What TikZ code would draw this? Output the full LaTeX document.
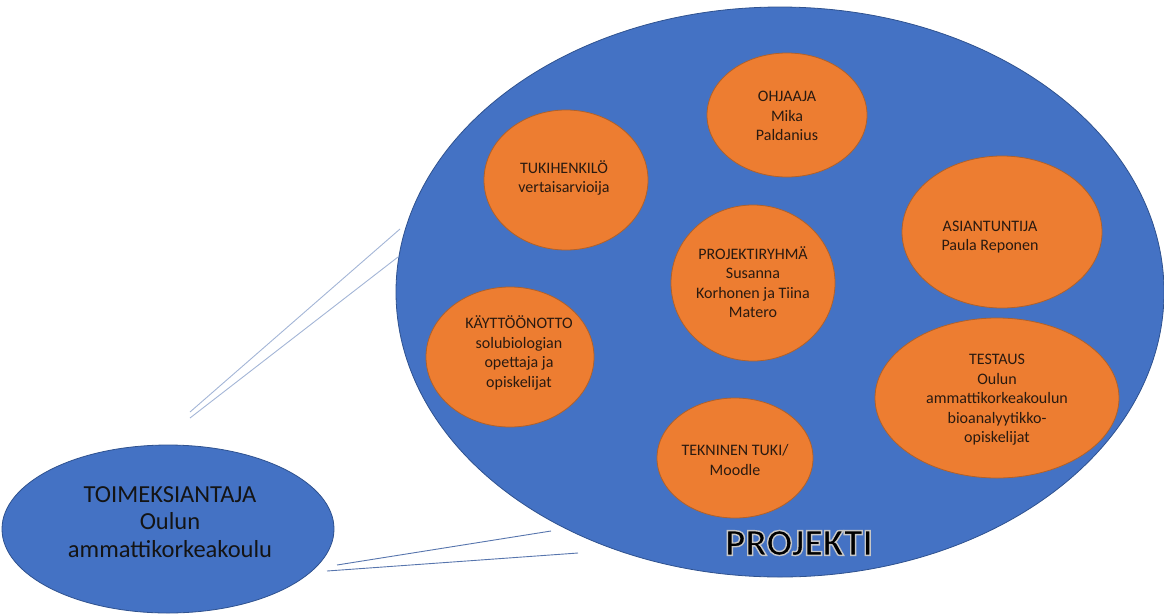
\documentclass[tikz,border=0pt]{standalone}
\usepackage{fontspec}
\setmainfont{Carlito}
\definecolor{projblue}{HTML}{4472C4}
\definecolor{projedge}{HTML}{2F528F}
\definecolor{roleorange}{HTML}{ED7D31}
\definecolor{roleedge}{HTML}{B0612A}
\definecolor{roletext}{HTML}{2A1A10}
\definecolor{linkpale}{HTML}{A3B5D6}
\definecolor{linkdark}{HTML}{5775AD}
\tikzset{
  blueoval/.style={fill=projblue,draw=projedge,line width=.8pt},
  roleoval/.style={fill=roleorange,draw=roleedge,line width=.8pt},
  roletxt/.style={align=center,text=roletext,font=\fontsize{16}{19.5}\selectfont},
  linkline/.style={line width=.9pt}
}
\begin{document}
\begin{tikzpicture}[x=1pt,y=-1pt]
  \useasboundingbox (0,0) rectangle (1164,614);
  % the project and the commissioner
  \draw[blueoval] (780,292) ellipse [x radius=384,y radius=285];
  \draw[blueoval] (168,529) ellipse [x radius=166,y radius=84];
  \node[align=center,text=black!92,font=\fontsize{24.5}{27.5}\selectfont] (toimeksiantaja) at (170,522) {TOIMEKSIANTAJA\\Oulun\\ammattikorkeakoulu};
  % roles inside the project
  \draw[roleoval] (787,115) ellipse [x radius=80,y radius=62]; \node[roletxt] (ohjaaja) at (787,116) {OHJAAJA\\Mika\\Paldanius};
  \draw[roleoval] (566,180) ellipse [x radius=82,y radius=70]; \node[roletxt] (tukihenkilo) at (564,178) {TUKIHENKILÖ\\vertaisarvioija};
  \draw[roleoval] (753,283) ellipse [x radius=82,y radius=78]; \node[roletxt] (projektiryhma) at (753,282) {PROJEKTIRYHMÄ\\Susanna\\Korhonen ja Tiina\\Matero};
  \draw[roleoval] (1002,232) ellipse [x radius=100,y radius=76]; \node[roletxt] (asiantuntija) at (990,237) {ASIANTUNTIJA\\Paula Reponen};
  \draw[roleoval] (510,357) ellipse [x radius=84,y radius=70]; \node[roletxt] (kayttoonotto) at (519,353) {KÄYTTÖÖNOTTO\\solubiologian\\opettaja ja\\opiskelijat};
  \draw[roleoval] (735,458) ellipse [x radius=78,y radius=60]; \node[roletxt] (tekninentuki) at (735,460) {TEKNINEN TUKI/\\Moodle};
  \draw[roleoval] (997,398) ellipse [x radius=122,y radius=80]; \node[roletxt] (testaus) at (997,400) {TESTAUS\\Oulun\\ammattikorkeakoulun\\bioanalyytikko-\\opiskelijat};
  % callout lines
  \coordinate (ua) at (190,412); \coordinate (ub) at (400,229); \coordinate (uc) at (190,418); \coordinate (ud) at (398,257);
  \coordinate (la) at (337,565); \coordinate (lb) at (551,531); \coordinate (lc) at (327,571); \coordinate (ld) at (578,553);
  \draw[linkline,linkpale] (ua) -- (ub); \draw[linkline,linkpale] (uc) -- (ud);
  \draw[linkline,linkdark] (la) -- (lb); \draw[linkline,linkdark] (lc) -- (ld);
  % title, black letters with a pale rim (fill+stroke text mode)
  \node[text=black,font=\fontsize{38}{44}\selectfont\bfseries] (projekti) at (799,543) {\special{pdf:code q 2 Tr 1.4 w 0.78 G}PROJEKTI\special{pdf:code Q}};
\end{tikzpicture}
\end{document}
